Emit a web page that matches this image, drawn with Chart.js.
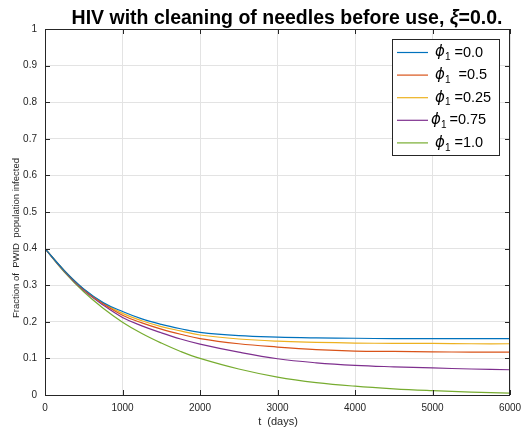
<!DOCTYPE html>
<html>
<head>
<meta charset="utf-8">
<script src="https://cdn.jsdelivr.net/npm/chart.js@4/dist/chart.umd.min.js"></script>
<style>
    html, body { margin: 0; padding: 0; background: #fff; }
    #wrap { width: 521px; height: 433px; position: relative; }
</style>
</head>
<body>
<div id="wrap"><canvas id="hiv-chart" width="521" height="433"></canvas></div>
<script>
// time axis (days)
const days = [0, 250, 500, 750, 1000, 1250, 1500, 1750, 2000, 2500, 3000, 3500, 4000, 4500, 5000, 5500, 6000];

// fraction infected, one list per phi_1 value
const phi00 = [0.400, 0.340, 0.290, 0.253, 0.228, 0.208, 0.193, 0.181, 0.171, 0.162, 0.158, 0.156, 0.155, 0.154, 0.154, 0.154, 0.154];
const phi05 = [0.400, 0.339, 0.288, 0.249, 0.218, 0.197, 0.180, 0.166, 0.154, 0.140, 0.131, 0.124, 0.120, 0.119, 0.118, 0.117, 0.117];
const phi025 = [0.400, 0.340, 0.289, 0.251, 0.223, 0.203, 0.187, 0.175, 0.164, 0.153, 0.147, 0.144, 0.142, 0.141, 0.141, 0.140, 0.140];
const phi075 = [0.400, 0.338, 0.286, 0.246, 0.212, 0.189, 0.170, 0.153, 0.139, 0.117, 0.099, 0.088, 0.081, 0.077, 0.074, 0.071, 0.069];
const phi10 = [0.400, 0.336, 0.282, 0.237, 0.199, 0.168, 0.142, 0.119, 0.100, 0.071, 0.049, 0.034, 0.024, 0.017, 0.012, 0.008, 0.005];

const seriesLabels = ['=0.0', ' =0.5', '=0.25', '=0.75', '=1.0'];
const seriesColors = ['#0072BD', '#D95319', '#EDB120', '#7E2F8E', '#77AC30'];
const seriesValues = [phi00, phi05, phi025, phi075, phi10];

const xTicks = [0, 1000, 2000, 3000, 4000, 5000, 6000];

const FONT = '"Liberation Sans", Arial, Helvetica, sans-serif';
const AXIS_COLOR = '#262626';

// frame, inward ticks, title, axis labels and legend (MATLAB look)
const matlabLook = {
    id: 'matlabLook',
    afterDraw(chart) {
        const c = chart.ctx;
        const a = chart.chartArea;
        const xs = chart.scales.x;
        const ys = chart.scales.y;

        c.save();
        c.strokeStyle = AXIS_COLOR;
        c.lineWidth = 1;
        c.strokeRect(a.left + 0.5, a.top + 0.5, a.right - a.left - 1, a.bottom - a.top);

        c.beginPath();
        xTicks.forEach(v => {
            const px = Math.round(xs.getPixelForValue(v)) + 0.5;
            c.moveTo(px, a.bottom);
            c.lineTo(px, a.bottom - 5);
            c.moveTo(px, a.top);
            c.lineTo(px, a.top + 5);
        });
        for (let i = 0; i <= 10; i++) {
            const py = Math.round(ys.getPixelForValue(i / 10)) + 0.5;
            c.moveTo(a.left, py);
            c.lineTo(a.left + 5, py);
            c.moveTo(a.right, py);
            c.lineTo(a.right - 5, py);
        }
        c.stroke();

        // title
        c.fillStyle = '#000';
        c.textBaseline = 'alphabetic';
        const t1 = 'HIV with cleaning of needles before use, ';
        const t2 = 'ξ';
        const t3 = '=0.0.';
        const tf = '19.5px ' + FONT;
        c.font = 'bold ' + tf;
        const w1 = c.measureText(t1).width;
        const w3 = c.measureText(t3).width;
        c.font = 'italic bold ' + tf;
        const w2 = c.measureText(t2).width;
        let tx = 287 - (w1 + w2 + w3) / 2;
        c.textAlign = 'left';
        c.font = 'bold ' + tf;
        c.fillText(t1, tx, 24);
        tx += w1;
        c.font = 'italic bold ' + tf;
        c.fillText(t2, tx, 24);
        tx += w2;
        c.font = 'bold ' + tf;
        c.fillText(t3, tx, 24);

        // axis titles
        c.fillStyle = AXIS_COLOR;
        c.font = '11px ' + FONT;
        c.textAlign = 'center';
        c.textBaseline = 'middle';
        c.fillText('t  (days)', 278, 422);
        c.font = '9.5px ' + FONT;
        c.save();
        c.translate(16, 238);
        c.rotate(-Math.PI / 2);
        c.fillText('Fraction of  PWID  population infected', 0, 0);
        c.restore();

        // legend
        const lx = 392, ly = 39, lw = 107, lh = 116;
        c.fillStyle = '#fff';
        c.fillRect(lx, ly, lw, lh);
        c.strokeStyle = AXIS_COLOR;
        c.strokeRect(lx + 0.5, ly + 0.5, lw, lh);
        c.textAlign = 'left';
        c.textBaseline = 'middle';
        seriesLabels.forEach((lab, i) => {
            const ry = 52.5 + i * 22.6;
            c.strokeStyle = seriesColors[i];
            c.lineWidth = 1.2;
            c.beginPath();
            c.moveTo(397, ry);
            c.lineTo(428, ry);
            c.stroke();
            let px = i === 3 ? 431 : 435;
            c.fillStyle = '#000';
            c.font = 'italic 15px "DejaVu Sans", sans-serif';
            c.fillText('ϕ', px, ry);
            px += c.measureText('ϕ').width;
            c.font = '10px ' + FONT;
            c.fillText('1', px, ry + 5);
            px += c.measureText('1').width + (i === 3 ? 3 : 4);
            c.font = '14.5px ' + FONT;
            c.fillText(lab, px, ry);
        });
        c.restore();
    }
};

const datasets = seriesValues.map((vals, i) => ({
    label: seriesLabels[i],
    data: vals.map((v, k) => ({ x: days[k], y: v })),
    borderColor: seriesColors[i],
    borderWidth: 1.2,
    pointRadius: 0,
    fill: false,
    tension: 0.4
}));

const chart = new Chart(
    document.getElementById('hiv-chart'),
    {
        type: 'line',
        data: { datasets },
        options: {
            responsive: false,
            animation: false,
            layout: { padding: { top: 29, right: 11, left: 0, bottom: 0 } },
            plugins: {
                legend: { display: false },
                title: { display: false },
                tooltip: { enabled: false }
            },
            scales: {
                x: {
                    type: 'linear',
                    min: 0,
                    max: 6000,
                    afterBuildTicks: s => { s.ticks = xTicks.map(v => ({ value: v })); },
                    afterFit: s => {
                        s.height = 38;
                        s.paddingLeft = 0;
                        s.paddingRight = 0;
                    },
                    grid: { color: '#e3e3e3', drawTicks: false },
                    border: { display: false },
                    ticks: {
                        padding: 7,
                        color: AXIS_COLOR,
                        font: { family: FONT, size: 10 },
                        maxRotation: 0,
                        callback: v => String(v)
                    }
                },
                y: {
                    min: 0,
                    max: 1,
                    afterFit: s => {
                        s.width = 45;
                        s.paddingTop = 0;
                        s.paddingBottom = 0;
                    },
                    grid: { color: '#e3e3e3', drawTicks: false },
                    border: { display: false },
                    ticks: {
                        stepSize: 0.1,
                        padding: 8,
                        color: AXIS_COLOR,
                        font: { family: FONT, size: 10 },
                        callback: v => String(Math.round(v * 10) / 10)
                    }
                }
            }
        },
        plugins: [matlabLook]
    }
);
</script>
</body>
</html>
